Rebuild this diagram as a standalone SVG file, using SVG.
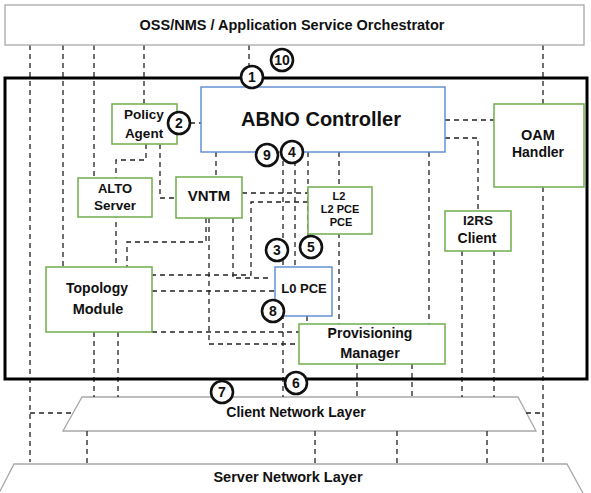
<svg xmlns="http://www.w3.org/2000/svg" width="591" height="493" viewBox="0 0 591 493">
<style>
text{font-family:"Liberation Sans",Arial,sans-serif;font-weight:bold;fill:#111;text-anchor:middle}
.dash{fill:none;stroke:#222;stroke-width:1.3;stroke-dasharray:5 4}
.green{fill:#fff;stroke:#77b255;stroke-width:1.6}
.blue{fill:#fff;stroke:#5b8bd0;stroke-width:1.4}
.gray{fill:#fff;stroke:#a8a8a8;stroke-width:1.3}
.num{fill:#fff;stroke:#111;stroke-width:2.6}
.n{font-size:14px}
</style>
<rect width="591" height="493" fill="#fff"/>
<g id="client-layer"><polygon class="gray" points="82,397 518,397 536,431 63,431"/><text x="296" y="417" font-size="14">Client Network Layer</text></g>
<g id="server-layer"><polygon class="gray" points="14,464 567,464 584,495 -2,495"/><text x="288" y="482" font-size="14.5">Server Network Layer</text></g>
<g id="connectors">
<path class="dash" d="M30 45V462M30 413H73"/>
<path class="dash" d="M63 45V267"/>
<path class="dash" d="M94 45V178M94 332V397M118 332V397"/>
<path class="dash" d="M144 45V104"/>
<path class="dash" d="M249 45V66"/>
<path class="dash" d="M543 45V104M543 187V463M526 413H543"/>
<path class="dash" d="M190 123H201"/>
<path class="dash" d="M146 144V160H116V267"/>
<path class="dash" d="M160 144V198H176"/>
<path class="dash" d="M216 152V177"/>
<path class="dash" d="M242 193H308"/>
<path class="dash" d="M308 202H251V275H152"/>
<path class="dash" d="M233 218V278H268"/>
<path class="dash" d="M206 218V242H127V267"/>
<path class="dash" d="M209 218V344H299"/>
<path class="dash" d="M152 291H275"/>
<path class="dash" d="M152 332H299"/>
<path class="dash" d="M283 152V397"/>
<path class="dash" d="M295 152V267"/>
<path class="dash" d="M308 152V236"/>
<path class="dash" d="M339 152V324"/>
<path class="dash" d="M429 152V324"/>
<path class="dash" d="M307 316V324"/>
<path class="dash" d="M445 120H494"/>
<path class="dash" d="M445 138H478V211"/>
<path class="dash" d="M462 251V397M494 251V397"/>
<path class="dash" d="M357 364V397M412 364V397"/>
<path class="dash" d="M87 431V464M315 431V464M397 431V464M487 431V464"/>
</g>
<rect id="frame" x="5" y="78" width="582" height="301" fill="none" stroke="#000" stroke-width="3"/>
<g id="oss"><rect class="gray" x="5" y="5" width="579" height="40"/><text x="292" y="30" font-size="14.5">OSS/NMS / Application Service Orchestrator</text></g>
<g id="abno"><rect class="blue" x="201" y="87" width="244" height="65"/><text x="321" y="126" font-size="20">ABNO Controller</text></g>
<g id="policy"><rect class="green" x="112" y="104" width="65" height="40"/><text x="144" y="119" font-size="13.5">Policy</text><text x="144" y="138" font-size="13.5">Agent</text></g>
<g id="alto"><rect class="green" x="78" y="178" width="74" height="39"/><text x="115" y="193" font-size="13">ALTO</text><text x="115" y="210" font-size="13.5">Server</text></g>
<g id="vntm"><rect class="green" x="176" y="177" width="66" height="41"/><text x="209" y="201" font-size="15">VNTM</text></g>
<g id="l2pce"><rect class="green" x="308" y="187" width="64" height="47"/><text x="339" y="200" font-size="11">L2</text><text x="340" y="213" font-size="11">L2 PCE</text><text x="341" y="226" font-size="11">PCE</text></g>
<g id="oam"><rect class="green" x="494" y="104" width="90" height="83"/><text x="538" y="140" font-size="14.5">OAM</text><text x="538" y="157" font-size="14">Handler</text></g>
<g id="i2rs"><rect class="green" x="445" y="211" width="66" height="40"/><text x="478" y="225" font-size="13.5">I2RS</text><text x="477" y="243" font-size="14">Client</text></g>
<g id="topology"><rect class="green" x="46" y="267" width="106" height="65"/><text x="97" y="293" font-size="14">Topology</text><text x="98" y="314" font-size="14.5">Module</text></g>
<g id="l0pce"><rect class="blue" x="275" y="267" width="57" height="49"/><text x="304" y="293" font-size="13">L0 PCE</text></g>
<g id="prov"><rect class="green" x="299" y="324" width="146" height="40"/><text x="370" y="338" font-size="14">Provisioning</text><text x="370" y="358" font-size="14.5">Manager</text></g>
<g id="markers">
<g id="m1"><circle class="num" cx="252" cy="77" r="11"/><text class="n" x="252" y="82">1</text></g>
<g id="m10"><circle class="num" cx="282" cy="60" r="11"/><text class="n" x="282" y="65">10</text></g>
<g id="m2"><circle class="num" cx="179" cy="123" r="11"/><text class="n" x="179" y="128">2</text></g>
<g id="m9"><circle class="num" cx="267" cy="155" r="11"/><text class="n" x="267" y="160">9</text></g>
<g id="m4"><circle class="num" cx="292" cy="152" r="11"/><text class="n" x="292" y="157">4</text></g>
<g id="m3"><circle class="num" cx="277" cy="250" r="11"/><text class="n" x="277" y="255">3</text></g>
<g id="m5"><circle class="num" cx="311" cy="247" r="11"/><text class="n" x="311" y="252">5</text></g>
<g id="m8"><circle class="num" cx="273" cy="311" r="11"/><text class="n" x="273" y="316">8</text></g>
<g id="m6"><circle class="num" cx="296" cy="383" r="11"/><text class="n" x="296" y="388">6</text></g>
<g id="m7"><circle class="num" cx="222" cy="392" r="11"/><text class="n" x="222" y="397">7</text></g>
</g>
</svg>
